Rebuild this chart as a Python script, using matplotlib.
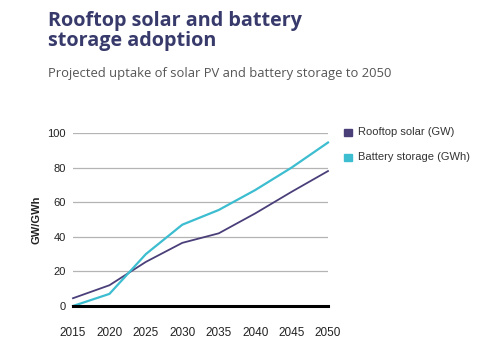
import matplotlib
matplotlib.use("Agg")
import matplotlib.pyplot as plt
from matplotlib.patches import Rectangle

years = [2015, 2020, 2025, 2030, 2035, 2040, 2045, 2050]
rooftop_solar_gw = [4.5, 12, 25.5, 36.5, 42, 53.5, 66, 78]
battery_storage_gwh = [0, 7, 30, 47, 55.5, 67, 80, 94.5]
series_labels = ["Rooftop solar (GW)", "Battery storage (GWh)"]
yticks = [0, 20, 40, 60, 80, 100]

SOLAR = "#4b3f7a"
BATTERY = "#3cbdd0"
NAVY = "#373a6b"

plt.rcParams["font.family"] = ["Liberation Sans", "DejaVu Sans"]

fig = plt.figure(figsize=(5.0, 3.46), dpi=100)
ax = fig.add_axes([0.146, 0.1156, 0.51, 0.5])

for y in yticks[1:]:
    ax.axhline(y, color="#b4b4b4", lw=0.9, zorder=1)
ax.axhline(0, color="black", lw=2.2, zorder=4, clip_on=False)

ax.plot(years, rooftop_solar_gw, color=SOLAR, lw=1.3, zorder=3, clip_on=False)
ax.plot(years, battery_storage_gwh, color=BATTERY, lw=1.6, zorder=3, clip_on=False)

ax.set_xlim(2015, 2050)
ax.set_ylim(0, 100)
ax.set_xticks(years)
ax.set_yticks(yticks)
ax.tick_params(length=0, labelsize=8, colors="#222222")
ax.tick_params(axis="x", pad=15, labelsize=8.5)
ax.tick_params(axis="y", pad=5)
for s in ax.spines.values():
    s.set_visible(False)
ax.set_ylabel("GW/GWh", fontsize=8, fontweight="bold", color="#222222", labelpad=4)

# legend drawn by hand: small squares with labels to the right of the plot
for i, (lab, col) in enumerate(zip(series_labels, [SOLAR, BATTERY])):
    yy = 1 - (132 + 25 * i) / 346
    fig.patches.append(Rectangle((344 / 500, yy - 0.013), 0.016, 0.023,
                                 transform=fig.transFigure, color=col))
    fig.text(358 / 500, yy, lab, fontsize=8, color="#333333", va="center")

fig.text(48 / 500, 1 - 31 / 346, "Rooftop solar and battery\nstorage adoption",
         fontsize=14.2, fontweight="bold", color=NAVY, va="center",
         linespacing=0.95, family=["Open Sans", "DejaVu Sans"])
fig.text(48 / 500, 1 - 74 / 346, "Projected uptake of solar PV and battery storage to 2050",
         fontsize=9.4, color="#555555", va="center", family=["Open Sans", "DejaVu Sans"])

fig.savefig("out.png", dpi=100)
